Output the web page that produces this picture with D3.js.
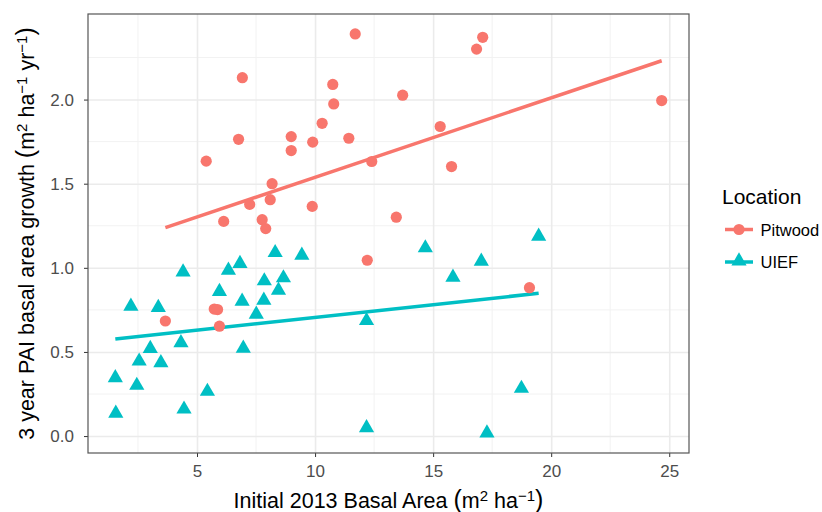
<!DOCTYPE html>
<html>
<head>
<meta charset="utf-8">
<script src="https://cdn.jsdelivr.net/npm/d3@7"></script>
<style>
  body { margin: 0; background: #fff; }
  text { font-family: "Liberation Sans", Arial, Helvetica, sans-serif; }
</style>
</head>
<body>
<div id="chart"></div>
<script>
// data
var pitX = [6.92, 6.76, 5.39, 8.99, 8.99, 8.18, 8.10, 7.23, 6.13, 7.76, 7.91, 11.70, 17.10, 16.84, 10.75, 10.79,
            13.71, 10.30, 9.90, 11.43, 15.30, 12.40, 15.78, 9.88, 13.44, 24.68, 3.66, 5.73, 5.87, 5.95, 12.21, 19.08];
var pitY = [2.13, 1.764, 1.634, 1.78, 1.697, 1.50, 1.405, 1.377, 1.276, 1.286, 1.233, 2.39, 2.37, 2.30, 2.09, 1.974,
            2.026, 1.859, 1.747, 1.770, 1.840, 1.632, 1.602, 1.365, 1.301, 1.994, 0.684, 0.755, 0.752, 0.653, 1.045, 0.882];
var uiefX = [4.41, 2.20, 3.36, 6.33, 6.82, 8.31, 7.85, 8.66, 8.45, 5.95, 6.91, 7.83, 7.51, 4.32, 3.02, 2.55,
             3.47, 6.96, 1.54, 2.45, 5.44, 1.56, 4.45, 9.44, 14.67, 15.84, 17.04, 12.18, 12.18, 17.28, 19.47, 18.74];
var uiefY = [0.975, 0.771, 0.764, 0.985, 1.025, 1.090, 0.922, 0.94, 0.866, 0.859, 0.801, 0.807, 0.724, 0.554, 0.520, 0.445,
             0.435, 0.522, 0.346, 0.301, 0.265, 0.135, 0.160, 1.074, 1.118, 0.944, 1.039, 0.686, 0.049, 0.018, 1.187, 0.283];
var locations = ["Pitwood", "UIEF"];
var xTicks = [5, 10, 15, 20, 25];
var yTicks = [0.0, 0.5, 1.0, 1.5, 2.0];

var colors = {Pitwood: "#F8766D", UIEF: "#00BFC4"};
var W = 822, H = 512;
var L = 88, R = 689, T = 14, B = 453;

var series = [
    {name: "Pitwood", pts: pitX.map(function (x, i) { return [x, pitY[i]]; })},
    {name: "UIEF", pts: uiefX.map(function (x, i) { return [x, uiefY[i]]; })}
];

//ggplot style 5% expansion
function expand(ext) {
    var d = (ext[1] - ext[0]) * 0.05;
    return [ext[0] - d, ext[1] + d];
}
var allX = pitX.concat(uiefX), allY = pitY.concat(uiefY);

var xScale = d3.scaleLinear().domain(expand(d3.extent(allX))).range([L, R]);
var yScale = d3.scaleLinear().domain(expand(d3.extent(allY))).range([B, T]);

var svg = d3.select("#chart").append("svg")
    .attr("width", W)
    .attr("height", H);

//GRIDS
var minorX = d3.range(2.5, 26, 5), minorY = d3.range(0.25, 2.5, 0.5);
svg.append("g").selectAll("line").data(minorX).enter().append("line")
    .attr("x1", function (d) { return xScale(d); }).attr("x2", function (d) { return xScale(d); })
    .attr("y1", T).attr("y2", B)
    .attr("stroke", "#F2F2F2").attr("stroke-width", 1);
svg.append("g").selectAll("line").data(minorY).enter().append("line")
    .attr("y1", function (d) { return yScale(d); }).attr("y2", function (d) { return yScale(d); })
    .attr("x1", L).attr("x2", R)
    .attr("stroke", "#F2F2F2").attr("stroke-width", 1);

svg.append("g")
    .attr("transform", "translate(0," + T + ")")
    .call(d3.axisTop(xScale).tickValues(xTicks).tickFormat("").tickSize(-(B - T)))
    .call(function (g) { g.select(".domain").remove(); })
    .selectAll("line").attr("stroke", "#EBEBEB").attr("stroke-width", 1.6);
svg.append("g")
    .attr("transform", "translate(" + L + ",0)")
    .call(d3.axisLeft(yScale).tickValues(yTicks).tickFormat("").tickSize(-(R - L)))
    .call(function (g) { g.select(".domain").remove(); })
    .selectAll("line").attr("stroke", "#EBEBEB").attr("stroke-width", 1.6);

//AXES
var xAxis = svg.append("g")
    .attr("transform", "translate(0," + B + ")")
    .call(d3.axisBottom(xScale).tickValues(xTicks).tickSize(4).tickPadding(8).tickFormat(d3.format("d")));
var yAxis = svg.append("g")
    .attr("transform", "translate(" + L + ",0)")
    .call(d3.axisLeft(yScale).tickValues(yTicks).tickSize(4).tickPadding(10).tickFormat(d3.format(".1f")));
[xAxis, yAxis].forEach(function (g) {
    g.select(".domain").remove();
    g.selectAll("line").attr("stroke", "#333").attr("stroke-width", 1);
    g.selectAll("text").attr("fill", "#4D4D4D").style("font-size", "17px")
        .style("font-family", "'Liberation Sans', Arial, sans-serif");
});

//REGRESSION LINES (lm fit like geom_smooth)
function fit(pts) {
    var mx = d3.mean(pts, function (p) { return p[0]; });
    var my = d3.mean(pts, function (p) { return p[1]; });
    var sxy = d3.sum(pts, function (p) { return (p[0] - mx) * (p[1] - my); });
    var sxx = d3.sum(pts, function (p) { return (p[0] - mx) * (p[0] - mx); });
    var b = sxy / sxx, a = my - b * mx;
    var ex = d3.extent(pts, function (p) { return p[0]; });
    return [[ex[0], a + b * ex[0]], [ex[1], a + b * ex[1]]];
}
var lineGen = d3.line()
    .x(function (d) { return xScale(d[0]); })
    .y(function (d) { return yScale(d[1]); });

series.forEach(function (s) {
    svg.append("path")
        .attr("d", lineGen(fit(s.pts)))
        .attr("fill", "none")
        .attr("stroke", colors[s.name])
        .attr("stroke-width", 3.5);
});

//POINTS
var tri = d3.symbol().type(d3.symbolTriangle).size(100);
svg.append("g").selectAll("circle").data(series[0].pts).enter().append("circle")
    .attr("cx", function (d) { return xScale(d[0]); })
    .attr("cy", function (d) { return yScale(d[1]); })
    .attr("r", 5.6)
    .attr("fill", colors.Pitwood);
svg.append("g").selectAll("path").data(series[1].pts).enter().append("path")
    .attr("d", tri)
    .attr("transform", function (d) { return "translate(" + xScale(d[0]) + "," + yScale(d[1]) + ")"; })
    .attr("fill", colors.UIEF);

//PANEL BORDER
svg.append("rect")
    .attr("x", L).attr("y", T).attr("width", R - L).attr("height", B - T)
    .attr("fill", "none").attr("stroke", "#555").attr("stroke-width", 1.2);

//AXIS TITLES
function unitTitle(g, parts) {
    var t = g.append("text").attr("text-anchor", "middle").attr("fill", "#000").style("font-size", "21.5px");
    parts.forEach(function (p) {
        var ts = t.append("tspan").text(p[0]);
        if (p[1] == "sup") ts.attr("baseline-shift", "45%").style("font-size", "15px");
        if (p[1] == "paren") ts.style("font-size", "25px");
    });
    return t;
}
var xt = unitTitle(svg.append("g").attr("transform", "translate(" + ((L + R) / 2) + ",507.5)"),
    [["Initial 2013 Basal Area "], ["(", "paren"], ["m"], ["2", "sup"], [" ha"], ["\u22121", "sup"], [")", "paren"]]);
var yt = unitTitle(svg.append("g").attr("transform", "translate(33.5," + ((T + B) / 2) + ") rotate(-90)"),
    [["3 year PAI basal area growth "], ["(", "paren"], ["m"], ["2", "sup"], [" ha"], ["\u22121", "sup"], [" yr"], ["\u22121", "sup"], [")", "paren"]]);

//LEGEND
var leg = svg.append("g").attr("transform", "translate(722,0)");
leg.append("text").attr("x", 0).attr("y", 204).text("Location").style("font-size", "21px").attr("fill", "#000");
locations.forEach(function (name, i) {
    var cy = 229.5 + i * 32.5;
    var g = leg.append("g");
    g.append("line").attr("x1", 3).attr("x2", 31).attr("y1", cy).attr("y2", cy)
        .attr("stroke", colors[name]).attr("stroke-width", 3.5);
    if (name == "Pitwood")
        g.append("circle").attr("cx", 17).attr("cy", cy).attr("r", 5.6).attr("fill", colors[name]);
    else
        g.append("path").attr("d", tri).attr("transform", "translate(17," + (cy - 1) + ")").attr("fill", colors[name]);
    g.append("text").attr("x", 38.5).attr("y", cy + 6).text(name).style("font-size", "16.5px").attr("fill", "#000");
});
</script>
</body>
</html>
